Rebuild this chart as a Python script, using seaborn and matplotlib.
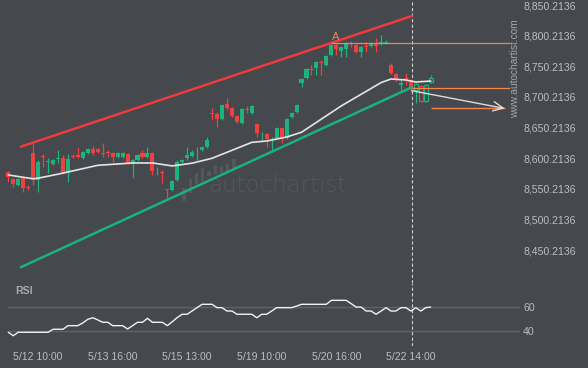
import matplotlib
matplotlib.use("Agg")
import matplotlib.pyplot as plt
import numpy as np
import pandas as pd
import seaborn as sns

# ---------------- data ----------------
tick_labels = ["5/12 10:00", "5/13 16:00", "5/15 13:00", "5/19 10:00", "5/20 16:00", "5/22 14:00"]
tick_candles = [6, 21, 36, 51, 66, 81]

opens = [8577.6, 8566.1, 8556.4, 8567.8, 8553.1, 8608.6, 8564.5, 8603.7, 8593.9, 8590.6,
         8599.6, 8600.4, 8575.9, 8603.7, 8605.3, 8600.4, 8608.6, 8615.1, 8615.1, 8608.6,
         8610.2, 8608.6, 8602.1, 8602.1, 8607.0, 8592.3, 8597.2, 8608.6, 8602.1, 8608.6,
         8578.4, 8577.6, 8549.8, 8548.2, 8564.5, 8593.9, 8600.4, 8603.7, 8612.7, 8613.5,
         8618.4, 8673.9, 8672.3, 8664.1, 8688.6, 8682.1, 8669.0, 8657.6, 8680.4, 8673.9,
         8655.9, 8637.2, 8639.6, 8629.0, 8633.1, 8649.4, 8633.1, 8667.4, 8675.5, 8722.9,
         8731.1, 8745.7, 8747.4, 8757.2, 8752.3, 8768.6, 8784.9, 8775.1, 8778.4, 8788.2,
         8784.9, 8773.5, 8783.3, 8783.3, 8788.2, 8789.0, 8789.0, 8752.3, 8737.6, 8719.6,
         8731.1, 8727.8, 8711.5, 8718.0, 8693.5, 8724.5]
highs = [8579.2, 8567.8, 8567.8, 8569.4, 8556.4, 8624.9, 8597.2, 8607.0, 8600.4, 8598.8,
         8613.5, 8605.3, 8607.0, 8607.0, 8618.4, 8611.9, 8616.8, 8620.0, 8616.8, 8624.9,
         8613.5, 8610.2, 8610.2, 8610.2, 8608.6, 8598.8, 8607.0, 8613.5, 8618.4, 8610.2,
         8585.7, 8580.8, 8549.8, 8564.5, 8597.2, 8598.8, 8618.4, 8613.5, 8618.4, 8620.0,
         8634.7, 8682.1, 8675.5, 8688.6, 8698.4, 8683.7, 8670.6, 8682.1, 8685.3, 8687.0,
         8657.6, 8642.9, 8641.2, 8634.7, 8651.0, 8651.0, 8665.7, 8675.5, 8688.6, 8731.1,
         8747.4, 8752.3, 8758.8, 8760.4, 8768.6, 8786.6, 8788.2, 8783.3, 8789.8, 8791.5,
         8786.6, 8783.3, 8789.8, 8789.8, 8796.4, 8801.3, 8793.1, 8755.5, 8739.2, 8727.8,
         8739.2, 8729.4, 8722.9, 8719.6, 8721.2, 8735.9]
lows = [8561.3, 8553.1, 8554.7, 8544.9, 8548.2, 8556.4, 8544.9, 8585.7, 8575.9, 8589.0,
        8592.3, 8574.3, 8561.3, 8600.4, 8600.4, 8598.8, 8607.0, 8605.3, 8608.6, 8602.1,
        8602.1, 8593.9, 8600.4, 8600.4, 8590.6, 8567.8, 8595.5, 8600.4, 8600.4, 8572.7,
        8572.7, 8559.6, 8535.1, 8546.5, 8562.9, 8592.3, 8597.2, 8602.1, 8597.2, 8611.9,
        8616.8, 8662.5, 8651.0, 8662.5, 8678.8, 8667.4, 8657.6, 8655.9, 8673.9, 8672.3,
        8634.7, 8629.8, 8618.4, 8613.5, 8631.4, 8624.9, 8631.4, 8665.7, 8673.9, 8716.3,
        8729.4, 8735.9, 8735.9, 8735.9, 8750.6, 8767.0, 8768.6, 8765.3, 8765.3, 8781.7,
        8771.9, 8765.3, 8773.5, 8781.7, 8773.5, 8784.9, 8786.6, 8737.6, 8726.1, 8711.5,
        8719.6, 8708.2, 8690.2, 8691.9, 8691.9, 8722.9]
closes = [8569.4, 8558.0, 8566.1, 8551.4, 8551.4, 8564.5, 8593.9, 8602.1, 8595.5, 8597.2,
          8600.4, 8575.9, 8598.8, 8602.1, 8602.1, 8610.2, 8615.1, 8608.6, 8610.2, 8607.0,
          8608.6, 8602.1, 8608.6, 8608.6, 8592.3, 8597.2, 8605.3, 8602.1, 8608.6, 8579.2,
          8579.2, 8575.9, 8548.2, 8562.9, 8593.9, 8597.2, 8605.3, 8610.2, 8613.5, 8618.4,
          8629.8, 8672.3, 8664.1, 8687.0, 8682.1, 8669.0, 8659.2, 8680.4, 8678.8, 8685.3,
          8641.2, 8638.0, 8631.4, 8629.8, 8649.4, 8633.1, 8664.1, 8673.9, 8687.0, 8729.4,
          8745.7, 8744.1, 8757.2, 8755.5, 8767.0, 8784.9, 8778.4, 8781.7, 8788.2, 8786.6,
          8773.5, 8781.7, 8781.7, 8788.2, 8783.3, 8789.8, 8789.8, 8739.2, 8727.8, 8722.9,
          8727.8, 8711.5, 8721.2, 8693.5, 8719.6, 8731.1]
first_hollow = 82          # candles after the signal are drawn as outlines

ma_candle = [0, 5, 6, 10, 18, 25, 29, 33, 37, 41, 45, 49, 52, 56, 59, 63, 67, 71, 75, 77, 80, 82, 85]
ma_value = [8572.7, 8566.5, 8567.5, 8574.0, 8588.5, 8592.3, 8592.3, 8587.5, 8592.0, 8600.0,
            8613.0, 8626.0, 8628.2, 8634.7, 8642.5, 8664.0, 8685.5, 8704.5, 8723.5, 8729.4,
            8727.8, 8724.5, 8726.1]

rsi = [38.7, 35.8, 38.7, 38.7, 38.7, 38.7, 38.7, 38.7, 38.7, 41.2,
       41.2, 41.2, 44.2, 44.2, 44.2, 46.5, 49.5, 50.8, 49.0, 47.0,
       47.0, 44.2, 44.2, 44.2, 41.4, 44.2, 47.0, 47.0, 50.3, 47.0,
       47.0, 47.0, 44.2, 47.5, 51.0, 53.7, 53.7, 56.5, 59.3, 62.0,
       62.0, 62.0, 59.2, 59.2, 56.4, 56.4, 53.7, 53.7, 53.7, 53.7,
       50.8, 53.7, 53.7, 56.4, 59.2, 59.2, 59.2, 59.2, 60.5, 62.0,
       62.0, 62.0, 62.0, 62.0, 62.0, 65.3, 65.3, 65.3, 65.3, 62.5,
       59.7, 59.7, 56.4, 56.4, 53.7, 56.4, 59.2, 56.4, 56.4, 59.2,
       59.2, 56.4, 59.2, 56.4, 59.2, 59.7]
rsi_levels = [40, 60]

resistance_x = [2.5, 81.2]
resistance_y = [8618.9, 8832.3]
support_x = [2.5, 81.2]
support_y = [8422.0, 8715.9]

signal_candle = 81.2
level_prices = [8787.7, 8715.5]
level_start = [65.0, 81.2]
target_price = 8681.3
target_start = 85.0
forecast_x = [81.2, 99.9]
forecast_y = [8710.3, 8681.3]
label_a = ("A", 65.8, 8798.0)

price_ticks = [8450.2136 + 50 * k for k in range(9)]

# watermark logo (faint mini bars)
logo_bottom = [0, 8, 17, 20, 25, 27, 28, 28, 33]
logo_top = [13, 22, 28, 33, 30, 36, 34, 37, 42]

# ---------------- style ----------------
BG = "#45484d"
GREEN = "#1db37c"
RED = "#f0403f"
ORANGE = "#f5874d"
TXT = "#bcbdbf"
FAINT = "#54575c"

sns.set_theme(style="dark", rc={"axes.facecolor": BG, "figure.facecolor": BG,
                                "axes.edgecolor": BG, "grid.color": BG})
plt.rcParams["font.family"] = ["Liberation Sans", "DejaVu Sans"]

W, H = 588, 368
fig = plt.figure(figsize=(W / 100, H / 100), dpi=100)
fig.patch.set_facecolor(BG)

px_per_candle = 4.97
x0_px = 8.3
main_bottom_px = 283
main_right_px = 510
rsi_bottom_px = 346
rsi_right_px = 520
price_top = 8858.4
price_per_px = 1.6327

ax = fig.add_axes([0, (H - main_bottom_px) / H, main_right_px / W, main_bottom_px / H])
axr = fig.add_axes([0, (H - rsi_bottom_px) / H, rsi_right_px / W, (rsi_bottom_px - main_bottom_px) / H])
# logo axes (behind main content)
axl = fig.add_axes([181 / W, (H - 201) / H, 56 / W, 45 / H], zorder=-1)
axl.set_axis_off()
axl.bar(np.arange(len(logo_top)), np.subtract(logo_top, logo_bottom), bottom=logo_bottom,
        width=0.55, color=FAINT, edgecolor="none", linewidth=0)
axl.set_xlim(-0.5, len(logo_top) - 0.5)
axl.set_ylim(0, 45)
ax.patch.set_alpha(0)

for a in (ax, axr):
    for s in a.spines.values():
        s.set_visible(False)
    a.grid(False)
axr.set_facecolor(BG)

ax.set_xlim(-x0_px / px_per_candle, (main_right_px - x0_px) / px_per_candle)
ax.set_ylim(price_top - main_bottom_px * price_per_px, price_top)
axr.set_xlim(-x0_px / px_per_candle, (rsi_right_px - x0_px) / px_per_candle)
axr.set_ylim(60 - (rsi_bottom_px - 306.7) / 1.2, 60 + (306.7 - main_bottom_px) / 1.2)

# ---------------- watermark ----------------
ax.text(277 / main_right_px, 1 - 185 / main_bottom_px, "autochartist", transform=ax.transAxes,
        color=FAINT, fontsize=16.5, family=["DejaVu Sans"], fontweight="light",
        ha="center", va="center", zorder=1)

# ---------------- candles ----------------
df = pd.DataFrame({"o": opens, "h": highs, "l": lows, "c": closes})
df["i"] = np.arange(len(df))
df["up"] = df["c"] >= df["o"]
df["col"] = np.where(df["up"], GREEN, RED)
df["lo"] = df[["o", "c"]].min(axis=1)
df["hgt"] = (df["c"] - df["o"]).abs().clip(lower=1.4)

solid = df[df["i"] < first_hollow]
hollow = df[df["i"] >= first_hollow]
ax.vlines(df["i"], df["l"], df["h"], colors=df["col"], lw=0.9, zorder=3)
ax.bar(solid["i"], solid["hgt"], bottom=solid["lo"], width=0.82, color=solid["col"],
       edgecolor="none", linewidth=0, zorder=4)
ax.bar(hollow["i"], hollow["hgt"], bottom=hollow["lo"], width=0.85, color=BG,
       edgecolor=hollow["col"], linewidth=0.9, zorder=4)

# ---------------- moving average ----------------
sns.lineplot(x=ma_candle, y=ma_value, ax=ax, color="#e4e4e4", lw=1.2, sort=False, zorder=5)

# ---------------- channel lines ----------------
sns.lineplot(x=resistance_x, y=resistance_y, ax=ax, color="#ef3b3b", lw=1.8, sort=False, zorder=6)
sns.lineplot(x=support_x, y=support_y, ax=ax, color="#1ab27d", lw=1.8, sort=False, zorder=6)

# ---------------- levels / forecast ----------------
xr = ax.get_xlim()[1]
for p, s in zip(level_prices, level_start):
    ax.hlines(p, s, xr, color=ORANGE, lw=0.9, zorder=6)
ax.hlines(target_price, target_start, forecast_x[1], color=ORANGE, lw=1.0, zorder=6)
ax.annotate("", xy=(forecast_x[1], forecast_y[1]), xytext=(forecast_x[0], forecast_y[0]),
            arrowprops=dict(arrowstyle="->,head_length=0.6,head_width=0.28", color="#dcdcdc",
                            lw=1.0, shrinkA=0, shrinkB=0), zorder=7)
ax.text(label_a[1], label_a[2], label_a[0], color=ORANGE, fontsize=8, ha="center", va="center", zorder=7)

ax.axvline(signal_candle, color="#cfcfcf", lw=0.8, ls=(0, (3, 2)), zorder=2)
axr.axvline(signal_candle, color="#cfcfcf", lw=0.8, ls=(0, (3, 2)), zorder=2)

# ---------------- price axis ----------------
ax.yaxis.tick_right()
ax.set_yticks(price_ticks)
ax.set_yticklabels([f"{v:,.4f}" for v in price_ticks])
ax.tick_params(axis="y", length=0, pad=9.5, labelsize=7.6, labelcolor=TXT)
ax.set_xticks([])
ax.set_xlabel("")
ax.set_ylabel("")

fig.text(515.5 / W, (H - 69) / H, "www.autochartist.com", rotation=90, color="#a3a5a8",
         fontsize=7.3, ha="center", va="center")

# ---------------- RSI ----------------
axr.hlines(rsi_levels, -0.25, axr.get_xlim()[1], color="#5f6267", lw=1.0, zorder=1)
sns.lineplot(x=np.arange(len(rsi)), y=rsi, ax=axr, color="#f2f2f2", lw=1.0, sort=False, zorder=3)
axr.yaxis.tick_right()
axr.set_yticks(rsi_levels)
axr.set_yticklabels([str(v) for v in rsi_levels])
axr.tick_params(axis="y", length=0, pad=2.2, labelsize=7.6, labelcolor=TXT)
axr.set_xticks(tick_candles)
axr.set_xticklabels(tick_labels)
axr.tick_params(axis="x", length=0, pad=4.0, labelsize=7.6, labelcolor=TXT)
axr.set_xlabel("")
axr.set_ylabel("")
axr.text(15 / rsi_right_px, 1 - (291 - main_bottom_px) / (rsi_bottom_px - main_bottom_px), "RSI",
         transform=axr.transAxes, color="#a9abae", fontsize=7.6, fontweight="bold",
         ha="left", va="center")

fig.savefig("out.png", dpi=100, facecolor=BG)
